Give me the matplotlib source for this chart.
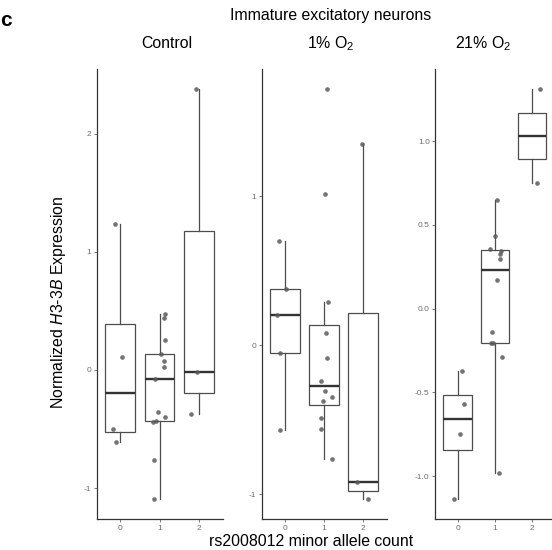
import matplotlib
matplotlib.use("Agg")
import matplotlib.pyplot as plt
import numpy as np

plt.rcParams['font.family'] = ['Liberation Sans', 'DejaVu Sans']
plt.rcParams['mathtext.fontset'] = 'custom'
plt.rcParams['mathtext.rm'] = 'Liberation Sans'
plt.rcParams['mathtext.it'] = 'Liberation Sans:italic'

# ---------------- data ----------------
genotypes = ["0", "1", "2"]
conditions = ["Control", "1% O$_2$", "21% O$_2$"]

control_g0 = [1.235, 0.107, -0.50, -0.607]
control_g1 = [0.471, 0.437, 0.251, 0.133, 0.073, 0.028, -0.073, -0.352,
              -0.429, -0.443, -0.398, -0.764, -1.089]
control_g2 = [2.375, -0.02, -0.375]

low_g0 = [0.702, 0.376, 0.201, -0.054, -0.568]
low_g1 = [1.718, 1.017, 0.291, 0.080, -0.083, -0.242, -0.307, -0.345,
          -0.374, -0.486, -0.564, -0.765]
low_g2 = [1.351, -0.922, -1.03]

high_g0 = [-1.133, -0.749, -0.566, -0.370]
high_g1 = [0.650, 0.434, 0.354, 0.346, 0.326, 0.296, 0.169, -0.141,
           -0.206, -0.206, -0.288, -0.982]
high_g2 = [1.308, 0.751]

# horizontal jitter of each point
control_j0 = [-0.13, 0.04, -0.17, -0.11]
control_j1 = [0.13, 0.11, 0.15, 0.04, 0.11, 0.11, -0.12, -0.03, -0.10,
              -0.17, 0.15, -0.15, -0.15]
control_j2 = [-0.08, -0.04, -0.19]
low_j0 = [-0.15, 0.01, -0.20, -0.13, -0.13]
low_j1 = [0.07, 0.03, 0.10, 0.04, 0.07, -0.08, 0.02, 0.20, -0.03, -0.08,
          -0.07, 0.21]
low_j2 = [-0.04, -0.15, 0.11]
high_j0 = [-0.11, 0.07, 0.17, 0.11]
high_j1 = [0.05, 0.01, -0.12, 0.16, 0.15, 0.14, 0.05, -0.08, -0.10, -0.05,
           0.19, 0.10]
high_j2 = [0.21, 0.12]

panels = [
    ([control_g0, control_g1, control_g2], [control_j0, control_j1, control_j2], [-1, 0, 1, 2], ["-1", "0", "1", "2"]),
    ([low_g0, low_g1, low_g2], [low_j0, low_j1, low_j2], [-1, 0, 1], ["-1", "0", "1"]),
    ([high_g0, high_g1, high_g2], [high_j0, high_j1, high_j2], [-1.0, -0.5, 0.0, 0.5, 1.0],
     ["-1.0", "-0.5", "0.0", "0.5", "1.0"]),
]

# ---------------- layout ----------------
W, H = 552, 550
fig = plt.figure(figsize=(W / 100, H / 100), dpi=100)

# panel pixel boxes: left, right ; top, bottom
pan_px = [(96.5, 222.5), (261.7, 386.7), (435.3, 554.5)]
top_px, bot_px = 69, 519

line_col = '#4d4d4d'
axis_col = '#333333'
tick_col = '#666666'

for (groups, jit, yt, ytl), (l, r) in zip(panels, pan_px):
    ax = fig.add_axes([l / W, 1 - bot_px / H, (r - l) / W, (bot_px - top_px) / H])
    pos = np.arange(len(groups))
    ax.boxplot(groups, positions=pos, widths=0.76, whis=1.5, showfliers=False,
               showcaps=False, patch_artist=True,
               boxprops=dict(facecolor='white', edgecolor=line_col, linewidth=0.9),
               whiskerprops=dict(color=line_col, linewidth=0.9),
               medianprops=dict(color='#333333', linewidth=1.7, solid_capstyle='butt'),
               zorder=2)
    for i, (vals, jj) in enumerate(zip(groups, jit)):
        ax.scatter(i + np.array(jj), vals, s=11, color='#5a5a5a', alpha=0.85,
                   linewidths=0, zorder=3)
    allv = np.concatenate([np.array(g) for g in groups])
    lo, hi = allv.min(), allv.max()
    pad = 0.05 * (hi - lo)
    ax.set_ylim(lo - pad, hi + pad)
    ax.set_xlim(-0.6, 2.6)
    ax.set_xticks(pos)
    ax.set_xticklabels(genotypes)
    ax.set_yticks(yt)
    ax.set_yticklabels(ytl)
    for s in ['top', 'right']:
        ax.spines[s].set_visible(False)
    for s in ['left', 'bottom']:
        ax.spines[s].set_color(axis_col)
        ax.spines[s].set_linewidth(0.9)
    ax.tick_params(axis='both', length=2.2, width=0.6, color=tick_col,
                   labelcolor='#6e6e6e', labelsize=6.0, pad=1.8)
    ax.patch.set_alpha(0)

# strip labels
strip_x = [167, 331, 483]
for name, xc in zip(conditions, strip_x):
    fig.text(xc / W, 1 - 44 / H, name, ha='center', va='center', fontsize=11.4)

fig.text(330.5 / W, 1 - 15.5 / H, "Immature excitatory neurons", ha='center', va='center',
         fontsize=11.4)
fig.text(0 / W, 1 - 20 / H, "c", ha='left', va='center', fontsize=15, fontweight='bold')
fig.text(311 / W, 1 - 541 / H, "rs2008012 minor allele count", ha='center', va='center',
         fontsize=11.4)
fig.text(58 / W, 1 - 302 / H, r"Normalized $\mathit{H3}$-$\mathit{3B}$ Expression",
         ha='center', va='center', rotation=90, fontsize=11.4)

fig.savefig("out.png", dpi=100)
